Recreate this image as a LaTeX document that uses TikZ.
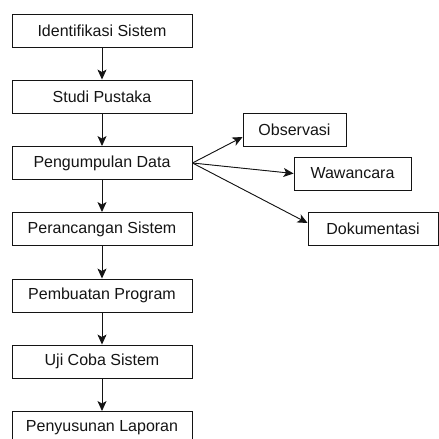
\documentclass[tikz,border=0pt]{standalone}
\usepackage{fontspec}
\setmainfont{Liberation Sans}
\usetikzlibrary{arrows.meta,calc}
\definecolor{ink}{RGB}{20,20,20}
\begin{document}
\begin{tikzpicture}[
  box/.style={draw=ink,text=ink,line width=0.9pt,minimum height=33pt,inner sep=0pt,font=\fontsize{16}{18}\selectfont},
  mainbox/.style={box,minimum width=180pt},
  arr/.style={draw=ink,fill=ink,line width=0.9pt,-{Stealth[length=10pt,width=9pt,inset=2.5pt]}}]
\useasboundingbox (0pt,0pt) rectangle (439pt,439pt);
\node[mainbox] (a) at (102pt,408.5pt) {Identifikasi Sistem};
\node[mainbox] (b) at (102pt,342.5pt) {Studi Pustaka};
\node[mainbox] (c) at (102pt,276pt) {Pengumpulan Data};
\node[mainbox] (d) at (102pt,210pt) {Perancangan Sistem};
\node[mainbox] (e) at (102pt,143.5pt) {Pembuatan Program};
\node[mainbox] (f) at (102pt,77.5pt) {Uji Coba Sistem};
\node[mainbox] (g) at (102pt,11pt) {Penyusunan Laporan};
\node[box,minimum width=103pt] (o) at (294.5pt,309.5pt) {Observasi};
\node[box,minimum width=117pt] (w) at (352.5pt,265.5pt) {Wawancara};
\node[box,minimum width=130pt] (k) at (373pt,210pt) {Dokumentasi};
\draw[arr] (a) -- (b);
\draw[arr] (b) -- (c);
\draw[arr] (c) -- (d);
\draw[arr] (d) -- (e);
\draw[arr] (e) -- (f);
\draw[arr] (f) -- (g);
\coordinate (oin) at ($(o.west)+(0pt,-7.5pt)$);
\coordinate (kin) at ($(k.west)+(0pt,6pt)$);
\draw[arr] (c.east) -- (oin);
\draw[arr] (c.east) -- (w.west);
\draw[arr] (c.east) -- (kin);
\end{tikzpicture}
\end{document}
